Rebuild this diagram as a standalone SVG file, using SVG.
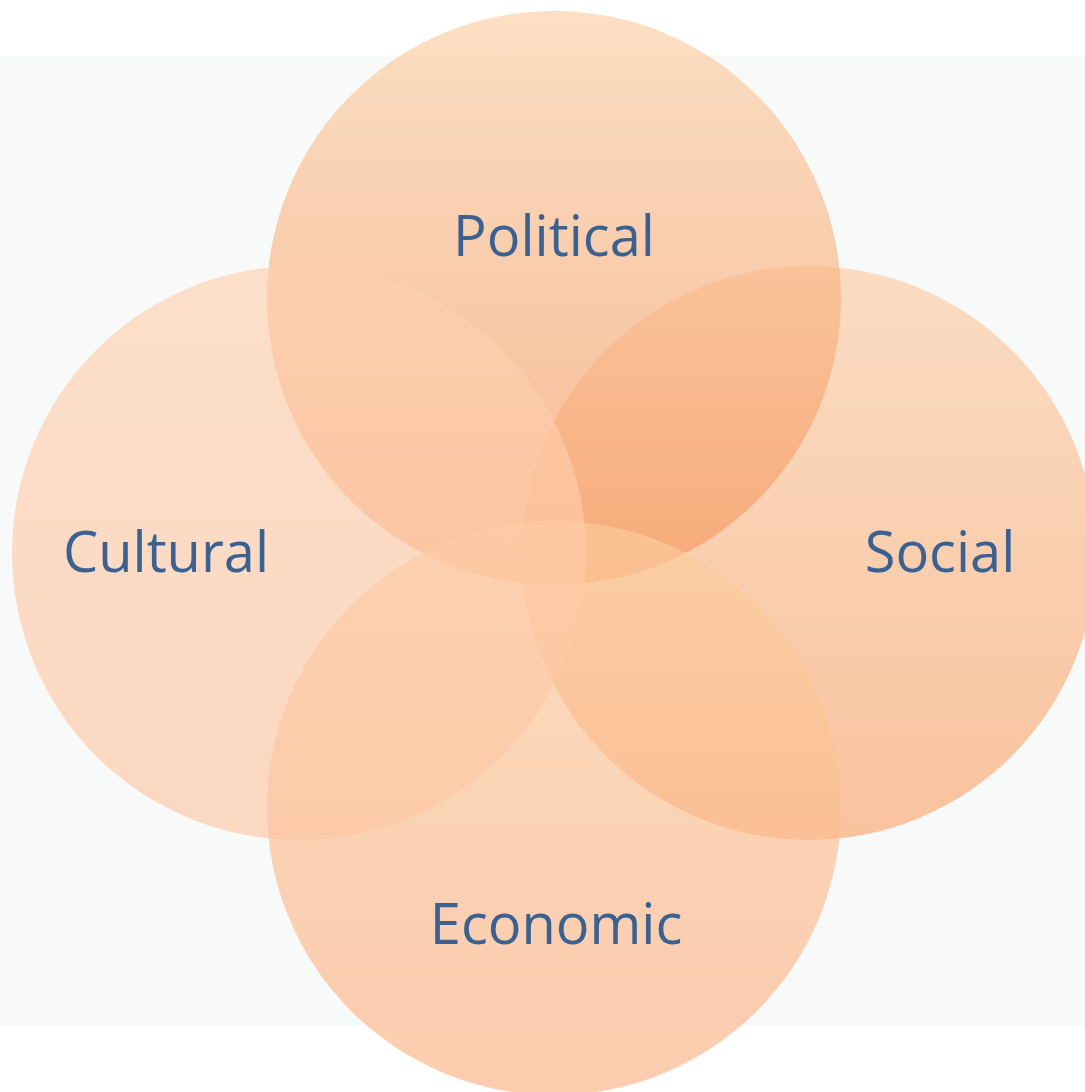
<svg xmlns="http://www.w3.org/2000/svg" width="1085" height="1092" viewBox="0 0 1085 1092">
<defs>
<linearGradient id="gp" x1="0" y1="0" x2="0" y2="1">
<stop offset="0" stop-color="#FCCEA3"/>
<stop offset="1" stop-color="#F5965D"/>
</linearGradient>
<linearGradient id="gc" x1="0" y1="0" x2="0" y2="1">
<stop offset="0" stop-color="#FED0B0"/>
<stop offset="1" stop-color="#FDC6A2"/>
</linearGradient>
<linearGradient id="gs" x1="0" y1="0" x2="0" y2="1">
<stop offset="0" stop-color="#FCCCA5"/>
<stop offset="1" stop-color="#F9A56C"/>
</linearGradient>
<linearGradient id="ge" x1="0" y1="0" x2="0" y2="1">
<stop offset="0" stop-color="#FCCD9D"/>
<stop offset="1" stop-color="#FCB084"/>
</linearGradient>
<style>
.c{fill-opacity:0.65}
.t{font-family:"Open Sans","Noto Sans",sans-serif;font-size:56px;fill:#3B6191;text-anchor:middle}
</style>
</defs>
<rect width="1085" height="1092" fill="#FFFFFF"/>
<rect x="0" y="56" width="1085" height="970" fill="#F8F9F9"/>
<g id="social"><circle class="c" fill="url(#gs)" cx="809" cy="553" r="287"/></g>
<g id="political"><circle class="c" fill="url(#gp)" cx="554" cy="298" r="287"/></g>
<g id="economic"><circle class="c" fill="url(#ge)" cx="554" cy="808" r="287"/></g>
<g id="cultural"><circle class="c" fill="url(#gc)" cx="299" cy="553" r="287"/></g>
<g id="labels">
<text class="t" x="554" y="256">Political</text>
<text class="t" x="940" y="572">Social</text>
<text class="t" x="556" y="944">Economic</text>
<text class="t" x="166" y="572">Cultural</text>
</g>
<g id="connectors"></g>
</svg>
